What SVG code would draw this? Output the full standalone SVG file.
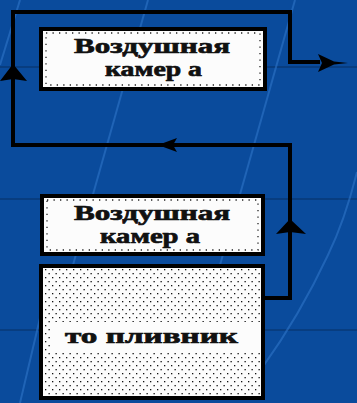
<svg xmlns="http://www.w3.org/2000/svg" width="357" height="403" viewBox="0 0 357 403">
  <defs>
    <style>
      .bg { fill: #0a4b9c; }
      .band { stroke: #083d80; stroke-width: 2; fill: none; }
      .streak { stroke: #2f74c8; stroke-width: 2; fill: none; opacity: 0.6; }
      .box { fill: #fcfcfc; stroke: #000; stroke-width: 4; }
      .frame { fill: none; stroke: #222; stroke-width: 1.3; stroke-dasharray: 1.3 5.2; }
      .label { font-family: "Liberation Serif", "DejaVu Serif", serif; font-weight: bold; font-size: 22px; fill: #111; stroke: #111; stroke-width: 0.7; }
      .wire { fill: none; stroke: #000; stroke-width: 4; stroke-linejoin: miter; }
      .head { fill: #000; }
    </style>
    <pattern id="dots" width="7" height="8" patternUnits="userSpaceOnUse" x="44" y="268">
      <rect width="7" height="8" fill="#fcfcfc"/>
      <rect x="1" y="1" width="1.3" height="1.3" fill="#111"/>
      <rect x="4.5" y="5" width="1.3" height="1.3" fill="#111"/>
    </pattern>
  </defs>

  <!-- backdrop -->
  <rect class="bg" x="0" y="0" width="357" height="403"/>
  <line class="band" x1="0" y1="67" x2="357" y2="67"/>
  <line class="band" x1="0" y1="199" x2="357" y2="199"/>
  <line class="band" x1="0" y1="330" x2="357" y2="330"/>
  <line class="streak" x1="20" y1="0" x2="0" y2="65"/>
  <line class="streak" x1="148" y1="0" x2="73" y2="265"/>
  <line class="streak" x1="295" y1="0" x2="220" y2="265"/>
  <line class="streak" x1="40" y1="318" x2="20" y2="403"/>
  <path class="streak" d="M357,172 Q345,220 328,255 Q300,315 262,368"/>

  <!-- connectors -->
  <g id="connectors">
    <path class="wire" d="M265,298 H290 V145 H13 V12 H290 V62 H320"/>
    <polygon class="head" points="13,64 27,81 13,79 0,81"/>
    <polygon class="head" points="318,54 334,61.5 348,63 334,64.5 318,72 322,63"/>
    <polygon class="head" points="158,145 177,138 173,145 177,152"/>
    <polygon class="head" points="290,219 306,234 290,232 276,234"/>
  </g>

  <!-- upper air chamber -->
  <g id="air-chamber-top">
    <rect class="box" x="41" y="29" width="224" height="60"/>
    <rect class="frame" x="46" y="33" width="214" height="52"/>
    <text class="label" x="74" y="53" textLength="156" lengthAdjust="spacingAndGlyphs">Воздушная</text>
    <text class="label" x="105" y="76" textLength="97" lengthAdjust="spacingAndGlyphs">камер а</text>
  </g>

  <!-- air chamber above the firebox -->
  <g id="air-chamber-bottom">
    <rect class="box" x="42" y="196" width="221" height="58"/>
    <rect class="frame" x="47" y="200" width="211" height="50"/>
    <text class="label" x="74" y="220" textLength="156" lengthAdjust="spacingAndGlyphs">Воздушная</text>
    <text class="label" x="100" y="243" textLength="100" lengthAdjust="spacingAndGlyphs">камер а</text>
  </g>

  <!-- firebox -->
  <g id="firebox">
    <rect class="box" x="41" y="266" width="222" height="132" style="fill:url(#dots)"/>
    <rect x="50" y="322" width="211" height="30" fill="#fcfcfc"/>
    <text class="label" x="65" y="343" textLength="173" lengthAdjust="spacingAndGlyphs">то пливник</text>
  </g>
</svg>
